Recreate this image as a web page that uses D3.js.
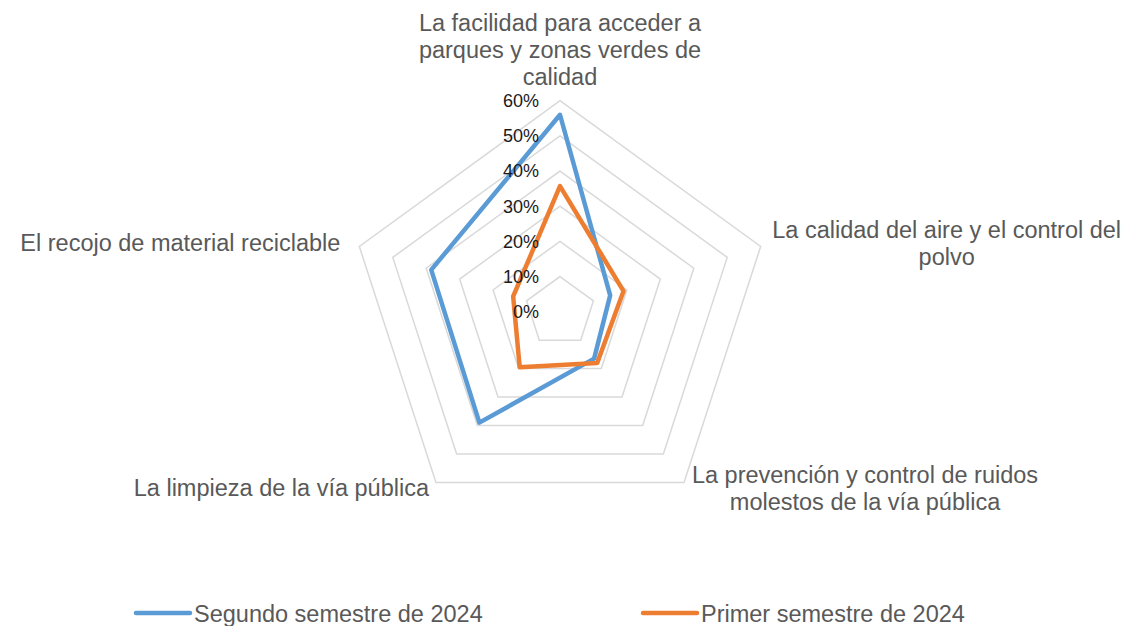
<!DOCTYPE html>
<html>
<head>
    <meta charset="utf-8">
    <style>
        body { margin: 0; background: #fff; }
        svg { font-family: "Liberation Sans", Arial, sans-serif; }
        .grid { fill: none; stroke: #d9d9d9; stroke-width: 1.5px; }
        .tick text { font-size: 18px; fill: #1a1a1a; text-anchor: end; }
        .cat text { font-size: 23.5px; fill: #595959; }
        .series { fill: none; stroke-width: 4.5px; stroke-linejoin: round; }
        .legend text { font-size: 23.5px; fill: #595959; }
    </style>
    <script src="https://d3js.org/d3.v7.min.js"></script>
</head>
<body>
    <svg width="1148" height="626"></svg>
    <script>
        // categories, clockwise from the top
        var categories = [
            ["La facilidad para acceder a", "parques y zonas verdes de", "calidad"],
            ["La calidad del aire y el control del", "polvo"],
            ["La prevención y control de ruidos", "molestos de la vía pública"],
            ["La limpieza de la vía pública"],
            ["El recojo de material reciclable"]
        ];
        var seriesNames = ["Segundo semestre de 2024", "Primer semestre de 2024"];
        var segundo = [0.56, 0.15, 0.165, 0.39, 0.385];
        var primer  = [0.357, 0.19, 0.18, 0.195, 0.14];
        var ticks = [0, 0.1, 0.2, 0.3, 0.4, 0.5, 0.6];

        var colors = ["#5b9bd5", "#ed7d31"];

        var svg = d3.select("svg"),
            cx = 560,
            cy = 311.7;

        var r = d3.scaleLinear().domain([0, 0.6]).range([0, 211]);
        var angle = d3.scaleLinear().domain([0, categories.length]).range([0, 2 * Math.PI]);

        var g = svg.append("g").attr("transform", "translate(" + cx + "," + cy + ")");

        // pentagon rings
        var ring = d3.lineRadial()
            .angle(function(d, i) { return angle(i); })
            .radius(function(d) { return r(d); })
            .curve(d3.curveLinearClosed);

        g.selectAll(".grid")
            .data(ticks.filter(function(t) { return t > 0; }))
            .enter().append("path")
            .attr("class", "grid")
            .attr("d", function(t) { return ring(categories.map(function() { return t; })); });

        // series
        var lineR = d3.lineRadial()
            .angle(function(d, i) { return angle(i); })
            .radius(function(d) { return r(d); })
            .curve(d3.curveLinearClosed);

        [segundo, primer].forEach(function(vals, k) {
            g.append("path")
                .attr("class", "series")
                .attr("stroke", colors[k])
                .attr("d", lineR(vals));
        });

        // tick labels along the top axis (drawn over the lines)
        g.append("g").attr("class", "tick")
            .selectAll("text")
            .data(ticks)
            .enter().append("text")
            .attr("x", -21)
            .attr("y", function(t) { return -r(t); })
            .attr("dy", "0.35em")
            .text(d3.format(".0%"));

        // category labels, placed off the outer vertex
        var labelPos = [
            { dx: 0, dy: -15.7, anchor: "middle", up: true },
            { dx: 186, dy: -9, anchor: "middle" },
            { dx: 181, dy: 1, anchor: "middle" },
            { dx: -7, dy: 13.6, anchor: "end" },
            { dx: -19, dy: 4, anchor: "end" }
        ];

        var cat = g.append("g").attr("class", "cat");
        categories.forEach(function(lines, i) {
            var a = angle(i),
                vx = Math.sin(a) * r(0.6),
                vy = -Math.cos(a) * r(0.6),
                p = labelPos[i],
                y0 = vy + p.dy - (p.up ? (lines.length - 1) * 27 : 0);
            var t = cat.append("text")
                .attr("text-anchor", p.anchor);
            lines.forEach(function(s, j) {
                t.append("tspan")
                    .attr("x", vx + p.dx)
                    .attr("y", y0 + j * 27)
                    .text(s);
            });
        });

        // legend
        var legend = svg.append("g").attr("class", "legend");
        var legX = [136, 643];
        seriesNames.forEach(function(name, k) {
            legend.append("line")
                .attr("x1", legX[k]).attr("x2", legX[k] + 54)
                .attr("y1", 613).attr("y2", 613)
                .attr("stroke", colors[k])
                .attr("stroke-width", 4.5)
                .attr("stroke-linecap", "round");
            legend.append("text")
                .attr("x", legX[k] + 58)
                .attr("y", 621.5)
                .text(name);
        });
    </script>
</body>
</html>
